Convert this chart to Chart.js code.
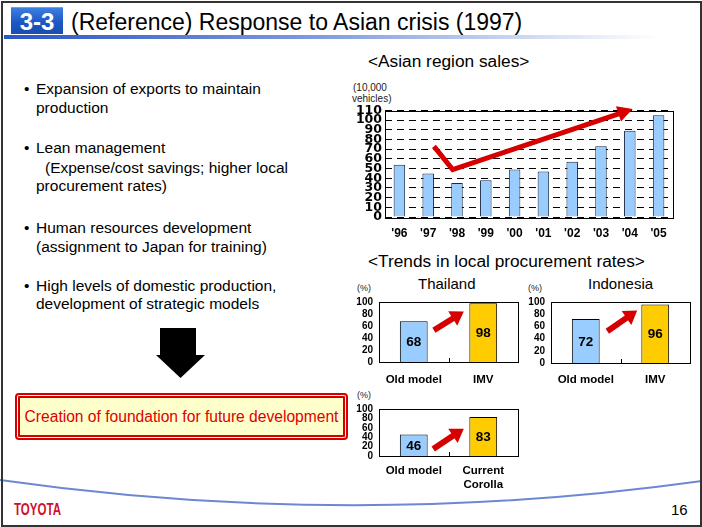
<!DOCTYPE html>
<html>
<head>
<meta charset="utf-8">
<script src="https://cdn.jsdelivr.net/npm/chart.js@4"></script>
<style>
  html, body { margin: 0; padding: 0; background: #fff; }
  #slide {
    position: relative; width: 702px; height: 527px; overflow: hidden;
    font-family: "Liberation Sans", Arial, sans-serif; color: #000;
  }
  #frame {
    position: absolute; left: 1px; top: 1px; width: 697px; height: 522px;
    border: 2px solid #333; box-sizing: content-box;
  }
  .abs { position: absolute; white-space: nowrap; }
  #badge {
    left: 11px; top: 7px; width: 52px; height: 27px;
    background: linear-gradient(#3d7ee0, #1c57c4 55%, #1a4eae);
    border-top: 1px solid #6ea0ee; box-sizing: border-box;
    color: #fff; font-weight: bold; font-size: 24px; line-height: 27px; text-align: center;
  }
  #title { left: 71px; top: 9px; font-size: 23px; line-height: 27px; }
  #rule {
    left: 4px; top: 35px; width: 690px; height: 4px;
    background: linear-gradient(to right, #2a56c2, #7f9ade 45%, #fff 95%);
  }
  .bullet { font-size: 15.5px; line-height: 19px; }
  .head { font-size: 17.3px; line-height: 20px; }
  .unit { font-size: 10px; line-height: 11px; color: #222; }
  .pct { font-size: 9px; line-height: 10px; color: #222; }
  #callout {
    left: 15px; top: 393px; width: 333px; height: 47px; box-sizing: border-box;
    border: 5px double #d40000; border-radius: 4px; background: #ffffcc;
    color: #e00000; font-size: 15.6px; line-height: 37px; text-align: center;
  }
  #logo {
    left: 14px; top: 500px; color: #d0102c; font-weight: bold; font-size: 16.5px;
    line-height: 18px; transform: scaleX(0.7); transform-origin: left center;
  }
  #page { left: 671px; top: 501px; font-size: 15px; line-height: 18px; }
  canvas { position: absolute; }
</style>
</head>
<body>
<div id="slide">
  <svg class="abs" style="left:0;top:0" width="702" height="527">
    <path d="M 0 480 Q 350 530 702 481" fill="none" stroke="#6d88d2" stroke-width="2"/>
    <polygon points="160,328 196,328 196,355 205,355 180.5,378 156,355 160,355" fill="#000"/>
  </svg>
  <div id="frame"></div>
  <div id="badge" class="abs">3-3</div>
  <div id="title" class="abs">(Reference) Response to Asian crisis (1997)</div>
  <div id="rule" class="abs"></div>

  <div class="abs bullet" style="left:24px;top:79px">•</div>
  <div class="abs bullet" style="left:36px;top:79px">Expansion of exports to maintain</div>
  <div class="abs bullet" style="left:36px;top:98px">production</div>
  <div class="abs bullet" style="left:24px;top:138px">•</div>
  <div class="abs bullet" style="left:36px;top:138px">Lean management</div>
  <div class="abs bullet" style="left:45px;top:158px">(Expense/cost savings; higher local</div>
  <div class="abs bullet" style="left:36px;top:176px">procurement rates)</div>
  <div class="abs bullet" style="left:24px;top:218px">•</div>
  <div class="abs bullet" style="left:36px;top:218px">Human resources development</div>
  <div class="abs bullet" style="left:36px;top:237px">(assignment to Japan for training)</div>
  <div class="abs bullet" style="left:24px;top:276px">•</div>
  <div class="abs bullet" style="left:36px;top:276px">High levels of domestic production,</div>
  <div class="abs bullet" style="left:36px;top:294px">development of strategic models</div>

  <div id="callout" class="abs">Creation of foundation for future development</div>

  <div class="abs head" style="left:368px;top:51px">&lt;Asian region sales&gt;</div>
  <div class="abs unit" style="left:353px;top:82px">(10,000</div>
  <div class="abs unit" style="left:352px;top:93px">vehicles)</div>

  <div class="abs head" style="left:368px;top:251px">&lt;Trends in local procurement rates&gt;</div>
  <div class="abs" style="left:418px;top:275px;font-size:15px;line-height:18px">Thailand</div>
  <div class="abs" style="left:588px;top:275px;font-size:15px;line-height:18px">Indonesia</div>
  <div class="abs pct" style="left:357px;top:283px">(%)</div>
  <div class="abs pct" style="left:528px;top:283px">(%)</div>
  <div class="abs pct" style="left:357px;top:390px">(%)</div>

  <canvas id="sales-chart" width="335" height="145" style="left:345px;top:100px"></canvas>
  <canvas id="thailand-chart" width="178" height="100" style="left:345px;top:290px"></canvas>
  <canvas id="indonesia-chart" width="178" height="100" style="left:517px;top:290px"></canvas>
  <canvas id="corolla-chart" width="178" height="100" style="left:345px;top:397px"></canvas>

  <div id="logo" class="abs">TOYOTA</div>
  <div id="page" class="abs">16</div>
</div>

<script>
// ================== Data ==================
const salesYears = ["'96", "'97", "'98", "'99", "'00", "'01", "'02", "'03", "'04", "'05"];
const salesVolume = [54, 45, 35, 38, 49, 47, 57, 73, 89, 105]; // 10,000 vehicles
// trend arrow, as [category index, value]
const salesTrend = [[1.2, 73], [1.85, 49], [8.1, 111.5]];

const imvModels = ['Old model', 'IMV'];
const thailandRates = [68, 98];
const indonesiaRates = [72, 96];
const corollaModels = ['Old model', ['Current', 'Corolla']];
const corollaRates = [46, 83];

const thailandArrow = [[0.29, 53], [0.72, 84]];
const indonesiaArrow = [[0.31, 52], [0.74, 86]];
const corollaArrow = [[0.28, 15], [0.72, 58]];

const BAR_BLUE = '#99ccff';
const BAR_YELLOW = '#ffcc00';
const ARROW_RED = '#d60000';
const FONT = '"Liberation Sans", Arial, sans-serif';

// ================== Plugins ==================
// solid box around the plot area
const FramePlugin = {
  id: 'frame',
  afterDatasetsDraw(chart) {
    const { ctx, chartArea: a } = chart;
    ctx.save();
    ctx.strokeStyle = '#000';
    ctx.lineWidth = 1;
    ctx.strokeRect(Math.round(a.left) + 0.5, Math.round(a.top) + 0.5,
      Math.round(a.right - a.left), Math.round(a.bottom - a.top));
    ctx.restore();
  }
};

// small tick between the two categories, pointing inward
const MidTickPlugin = {
  id: 'midTick',
  afterDatasetsDraw(chart, args, opts) {
    if (!opts || !opts.show) return;
    const { ctx, chartArea: a, scales: { x } } = chart;
    const xm = Math.round((x.getPixelForValue(0) + x.getPixelForValue(1)) / 2) + 0.5;
    ctx.save();
    ctx.strokeStyle = '#000';
    ctx.beginPath();
    ctx.moveTo(xm, a.bottom);
    ctx.lineTo(xm, a.bottom - 4);
    ctx.stroke();
    ctx.restore();
  }
};

// thick red arrow through points given in data units
const ArrowPlugin = {
  id: 'arrow',
  afterDraw(chart, args, opts) {
    if (!opts || !opts.points) return;
    const { ctx, scales: { x, y } } = chart;
    const cw = x.getPixelForValue(1) - x.getPixelForValue(0);
    const pts = opts.points.map(([i, v]) => [x.getPixelForValue(0) + i * cw, y.getPixelForValue(v)]);
    const n = pts.length;
    const [tx, ty] = pts[n - 1];
    const [px, py] = pts[n - 2];
    const ang = Math.atan2(ty - py, tx - px);
    const hl = opts.headLength, hw = opts.headWidth / 2;
    const bx = tx - hl * Math.cos(ang), by = ty - hl * Math.sin(ang);

    ctx.save();
    ctx.strokeStyle = opts.color;
    ctx.fillStyle = opts.color;
    ctx.lineWidth = opts.width;
    ctx.lineJoin = 'miter';
    ctx.beginPath();
    ctx.moveTo(pts[0][0], pts[0][1]);
    for (let k = 1; k < n - 1; k++) ctx.lineTo(pts[k][0], pts[k][1]);
    ctx.lineTo(bx + Math.cos(ang), by + Math.sin(ang));
    ctx.stroke();
    ctx.beginPath();
    ctx.moveTo(tx, ty);
    ctx.lineTo(bx - hw * Math.sin(ang), by + hw * Math.cos(ang));
    ctx.lineTo(bx + hw * Math.sin(ang), by - hw * Math.cos(ang));
    ctx.closePath();
    ctx.fill();
    ctx.restore();
  }
};

// value printed in the middle of each bar
const BarValuePlugin = {
  id: 'barValue',
  afterDatasetsDraw(chart, args, opts) {
    if (!opts || !opts.show) return;
    const { ctx } = chart;
    const meta = chart.getDatasetMeta(0);
    const values = chart.data.datasets[0].data;
    ctx.save();
    ctx.font = `bold 13.5px ${FONT}`;
    ctx.fillStyle = '#000';
    ctx.textAlign = 'center';
    ctx.textBaseline = 'middle';
    meta.data.forEach((bar, i) => {
      ctx.fillText(String(values[i]), bar.x, (bar.y + bar.base) / 2 + 1);
    });
    ctx.restore();
  }
};

Chart.register(FramePlugin, MidTickPlugin, ArrowPlugin, BarValuePlugin);
Chart.defaults.font.family = FONT;
Chart.defaults.color = '#000';

// ================== Charts ==================

// 1) Asian region sales
(function initSales() {
  new Chart(document.getElementById('sales-chart'), {
    type: 'bar',
    data: {
      labels: salesYears,
      datasets: [{
        data: salesVolume,
        backgroundColor: BAR_BLUE,
        borderColor: '#1a2a44',
        borderWidth: 1,
        barPercentage: 0.4,
        categoryPercentage: 1
      }]
    },
    options: {
      responsive: false,
      animation: false,
      layout: { padding: { top: 9, right: 7, left: 0, bottom: 0 }, autoPadding: false },
      plugins: {
        legend: { display: false },
        tooltip: { enabled: false },
        arrow: { points: salesTrend, color: ARROW_RED, width: 5, headLength: 15, headWidth: 16 }
      },
      scales: {
        x: {
          afterFit(s) { s.height = 28; },
          grid: { display: false, drawTicks: false },
          border: { display: false },
          ticks: { font: { size: 12, weight: 'bold' }, padding: 9, color: '#000' }
        },
        y: {
          min: 0, max: 110,
          afterFit(s) { s.width = 40; },
          grid: { color: '#000', lineWidth: 1, drawTicks: false },
          border: { display: false, dash: [7, 5] },
          ticks: {
            stepSize: 10, autoSkip: false, padding: 3, color: '#000',
            font: { family: '"DejaVu Sans", sans-serif', size: 12.5, weight: 'bold' }
          }
        }
      }
    }
  });
})();

// 2) procurement rate charts
function rateChart(id, labels, values, arrowPts, xHeight, labelPad) {
  new Chart(document.getElementById(id), {
    type: 'bar',
    data: {
      labels,
      datasets: [{
        data: values,
        backgroundColor: [BAR_BLUE, BAR_YELLOW],
        borderColor: '#000',
        borderWidth: 1,
        barPercentage: 0.4,
        categoryPercentage: 1
      }]
    },
    options: {
      responsive: false,
      animation: false,
      layout: { padding: { top: 8, right: 5, left: 0, bottom: 0 }, autoPadding: false },
      plugins: {
        legend: { display: false },
        tooltip: { enabled: false },
        midTick: { show: true },
        barValue: { show: true },
        arrow: { points: arrowPts, color: ARROW_RED, width: 6, headLength: 13, headWidth: 17 }
      },
      scales: {
        x: {
          afterFit(s) { s.height = xHeight; },
          grid: { display: false, drawTicks: false },
          border: { display: false },
          ticks: { font: { size: 11.5, weight: 'bold' }, padding: labelPad, color: '#000', maxRotation: 0 }
        },
        y: {
          min: 0, max: 100,
          afterFit(s) { s.width = 34; },
          grid: { display: false, drawTicks: false },
          border: { display: false },
          ticks: { stepSize: 20, autoSkip: false, font: { size: 10, weight: 'bold' }, padding: 6, color: '#000' }
        }
      }
    }
  });
}

rateChart('thailand-chart', imvModels, thailandRates, thailandArrow, 28, 11);
rateChart('indonesia-chart', imvModels, indonesiaRates, indonesiaArrow, 27, 10);
rateChart('corolla-chart', corollaModels, corollaRates, corollaArrow, 41, 8);
</script>
</body>
</html>
